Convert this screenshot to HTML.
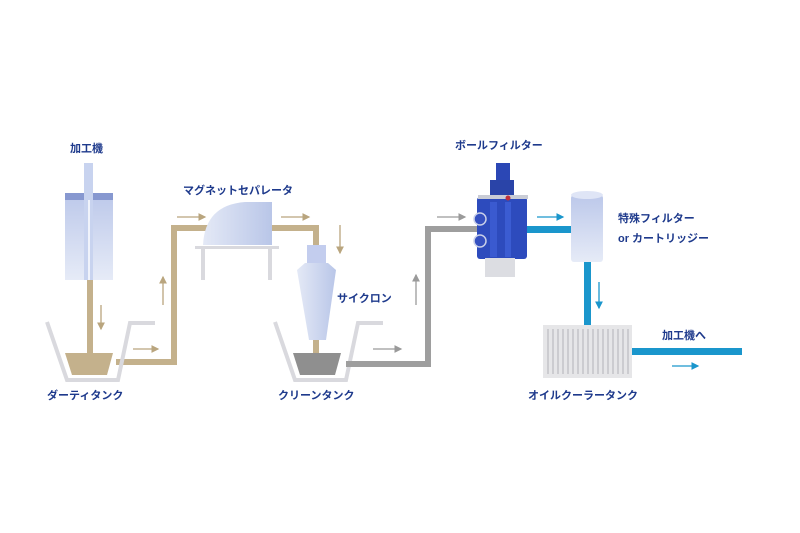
<!DOCTYPE html>
<html><head><meta charset="utf-8"><style>
html,body{margin:0;padding:0;background:#fff;}
svg{display:block}
text{font-family:"Liberation Sans","Noto Sans CJK JP",sans-serif;font-weight:bold;font-size:11px;fill:#1e3a8c;}
</style></head><body>
<svg width="800" height="533" viewBox="0 0 800 533" xmlns="http://www.w3.org/2000/svg">
<defs>
<linearGradient id="lb" x1="0" y1="0" x2="1" y2="0"><stop offset="0" stop-color="#e4e9f6"/><stop offset="1" stop-color="#b9c6e8"/></linearGradient>
<linearGradient id="lbv" x1="0" y1="0" x2="0" y2="1"><stop offset="0" stop-color="#bcc8ea"/><stop offset="1" stop-color="#e6ebf7"/></linearGradient>
<marker id="ab" markerWidth="6" markerHeight="6" refX="5" refY="3" orient="auto"><path d="M0,0 L6,3 L0,6 z" fill="#b9a57e"/></marker>
<marker id="ag" markerWidth="6" markerHeight="6" refX="5" refY="3" orient="auto"><path d="M0,0 L6,3 L0,6 z" fill="#9a9a9a"/></marker>
<marker id="ac" markerWidth="6" markerHeight="6" refX="5" refY="3" orient="auto"><path d="M0,0 L6,3 L0,6 z" fill="#1a96cc"/></marker>
</defs>

<!-- labels -->
<text x="70" y="152">加工機</text>
<text x="183" y="194">マグネットセパレータ</text>
<text x="337" y="302">サイクロン</text>
<text x="47" y="399">ダーティタンク</text>
<text x="278" y="399">クリーンタンク</text>
<text x="455" y="149">ボールフィルター</text>
<text x="618" y="222">特殊フィルター</text>
<text x="618" y="242">or カートリッジー</text>
<text x="662" y="339">加工機へ</text>
<text x="528" y="399">オイルクーラータンク</text>

<!-- brown pipes -->
<g fill="#c4b18c">
<rect x="87" y="280" width="6" height="75"/>
<rect x="116" y="359" width="61" height="6"/>
<rect x="171" y="225" width="6" height="140"/>
<rect x="171" y="225" width="148" height="6"/>
<rect x="313" y="225" width="6" height="24"/>
<rect x="313" y="338" width="6" height="17"/>
<path d="M65,353 L113,353 L107,375 L72,375 z"/>
</g>
<!-- tanks -->
<g fill="none" stroke="#d9d9de" stroke-width="4">
<path d="M47,322 L67,380 L118,380 L130,323 L155,323"/>
<path d="M275,322 L295,380 L346,380 L358,323 L383,323"/>
</g>
<path d="M293,353 L341,353 L335,375 L300,375 z" fill="#8f8f8f"/>
<!-- gray pipe -->
<g fill="#9e9e9e">
<rect x="346" y="361" width="85" height="6"/>
<rect x="425" y="226" width="6" height="141"/>
<rect x="425" y="226" width="55" height="6"/>
</g>
<!-- machine -->
<rect x="65" y="193" width="48" height="87" fill="url(#lbv)"/>
<path d="M65,193 L113,193 L113,200 L65,200 z" fill="#8798d0"/>
<rect x="84" y="163" width="9" height="117" fill="#c8d3ef"/>
<rect x="88" y="200" width="2" height="80" fill="#f0f3fb"/>
<!-- magnet separator -->
<path d="M203,245 Q205,205 245,202 L272,202 L272,245 z" fill="url(#lb)"/>
<rect x="195" y="246" width="84" height="3" fill="#d9d9de"/>
<rect x="201" y="249" width="4" height="31" fill="#d9d9de"/>
<rect x="268" y="249" width="4" height="31" fill="#d9d9de"/>
<!-- cyclone -->
<rect x="307" y="245" width="19" height="19" fill="#c3cdee"/>
<path d="M297,270 L305,263 L328,263 L336,270 L326,340 L309,340 z" fill="url(#lb)"/>
<!-- ball filter -->
<rect x="496" y="163" width="14" height="25" fill="#2b47b5"/>
<rect x="490" y="180" width="24" height="18" fill="#2a44a8"/>
<rect x="477" y="197" width="50" height="62" rx="3" fill="#2d4bbd"/>
<rect x="490" y="202" width="7" height="55" fill="#3a5ad0"/>
<rect x="505" y="202" width="6" height="55" fill="#3b5cd2"/>
<circle cx="480" cy="219" r="6" fill="#3550c0" stroke="#c8cfe8" stroke-width="1.5"/>
<circle cx="480" cy="241" r="6" fill="#3550c0" stroke="#c8cfe8" stroke-width="1.5"/>
<rect x="485" y="258" width="30" height="19" fill="#dcdde2"/>
<rect x="478" y="195" width="50" height="4" fill="#c9ccd6"/>
<circle cx="508" cy="198" r="2.5" fill="#c0303a"/>
<!-- blue -->
<g fill="#1a96cc">
<rect x="527" y="226" width="46" height="7"/>
<rect x="584" y="262" width="7" height="64"/>
<rect x="632" y="348" width="110" height="7"/>
</g>
<rect x="571" y="195" width="32" height="67" rx="3" fill="url(#lbv)"/>
<ellipse cx="587" cy="195" rx="16" ry="4" fill="#dfe5f6"/>
<!-- cooler -->
<rect x="543" y="325" width="89" height="53" fill="#e6e6e8"/>
<g stroke="#c4c4c8" stroke-width="1.5">
<line x1="548" y1="329" x2="548" y2="374"/><line x1="553" y1="329" x2="553" y2="374"/><line x1="558" y1="329" x2="558" y2="374"/><line x1="563" y1="329" x2="563" y2="374"/><line x1="568" y1="329" x2="568" y2="374"/><line x1="573" y1="329" x2="573" y2="374"/><line x1="578" y1="329" x2="578" y2="374"/><line x1="583" y1="329" x2="583" y2="374"/><line x1="588" y1="329" x2="588" y2="374"/><line x1="593" y1="329" x2="593" y2="374"/><line x1="598" y1="329" x2="598" y2="374"/><line x1="603" y1="329" x2="603" y2="374"/><line x1="608" y1="329" x2="608" y2="374"/><line x1="613" y1="329" x2="613" y2="374"/><line x1="618" y1="329" x2="618" y2="374"/><line x1="623" y1="329" x2="623" y2="374"/><line x1="628" y1="329" x2="628" y2="374"/>
</g>
<!-- arrows -->
<g stroke-width="1.3" fill="none">
<line x1="101" y1="305" x2="101" y2="329" stroke="#b9a57e" marker-end="url(#ab)"/>
<line x1="133" y1="349" x2="158" y2="349" stroke="#b9a57e" marker-end="url(#ab)"/>
<line x1="163" y1="305" x2="163" y2="277" stroke="#b9a57e" marker-end="url(#ab)"/>
<line x1="177" y1="217" x2="205" y2="217" stroke="#b9a57e" marker-end="url(#ab)"/>
<line x1="281" y1="217" x2="309" y2="217" stroke="#b9a57e" marker-end="url(#ab)"/>
<line x1="340" y1="225" x2="340" y2="253" stroke="#b9a57e" marker-end="url(#ab)"/>
<line x1="373" y1="349" x2="401" y2="349" stroke="#9a9a9a" marker-end="url(#ag)"/>
<line x1="416" y1="305" x2="416" y2="275" stroke="#9a9a9a" marker-end="url(#ag)"/>
<line x1="437" y1="217" x2="465" y2="217" stroke="#9a9a9a" marker-end="url(#ag)"/>
<line x1="537" y1="217" x2="563" y2="217" stroke="#1a96cc" marker-end="url(#ac)"/>
<line x1="599" y1="282" x2="599" y2="308" stroke="#1a96cc" marker-end="url(#ac)"/>
<line x1="672" y1="366" x2="698" y2="366" stroke="#1a96cc" marker-end="url(#ac)"/>
</g>
</svg>
</body></html>
